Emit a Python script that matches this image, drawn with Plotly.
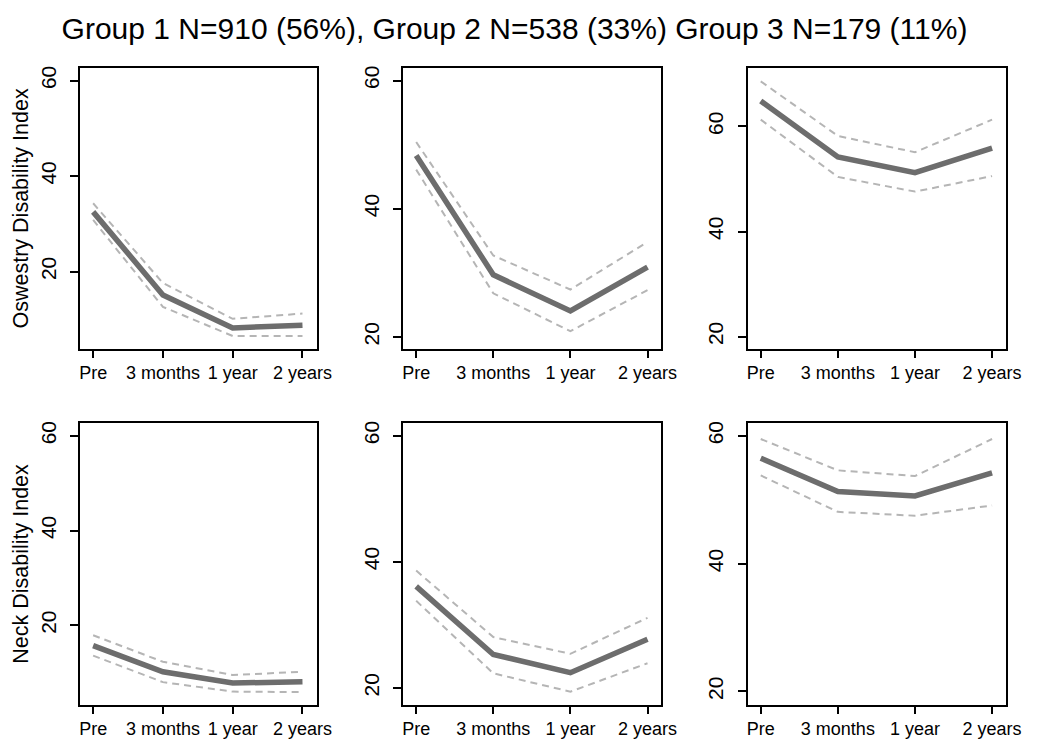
import plotly.graph_objects as go

timepoints = ["Pre", "3 months", "1 year", "2 years"]
x_pos = [0, 1, 2, 3]

# ODI (top row), groups 1-3
odi_mean = [[32.5, 15.1, 8.2, 8.75], [48.3, 29.7, 24.05, 30.9], [64.85, 54.2, 51.2, 55.9]]
odi_upper = [[34.3, 17.6, 10.1, 11.2], [50.4, 32.7, 27.4, 34.8], [68.6, 58.2, 55.1, 61.3]]
odi_lower = [[30.8, 12.6, 6.5, 6.5], [46.1, 26.8, 20.9, 27.3], [61.3, 50.4, 47.6, 50.55]]

# NDI (bottom row), groups 1-3
ndi_mean = [[15.7, 10.2, 7.8, 8.1], [36.1, 25.3, 22.4, 27.7], [56.5, 51.3, 50.6, 54.2]]
ndi_upper = [[17.9, 12.3, 9.5, 10.2], [38.6, 28.05, 25.4, 31.1], [59.5, 54.6, 53.7, 59.5]]
ndi_lower = [[13.6, 8.0, 6.0, 5.9], [33.8, 22.3, 19.4, 23.9], [53.8, 48.1, 47.5, 49.1]]

y_ticks = [20, 40, 60]
title_text = "Group 1 N=910 (56%), Group 2 N=538 (33%) Group 3 N=179 (11%)"
row_titles = ["Oswestry Disability Index", "Neck Disability Index"]

# page body has an 8px margin: the figure is drawn from (8, 8)
OFF = 8
W, H = 1037 - OFF, 739 - OFF


def fx(px):
    return (px - OFF) / W


def fy(py):
    return 1 - (py - OFF) / H


x_domains = [(fx(80), fx(321)), (fx(408.3), fx(670.7)), (fx(758.3), fx(1020.7))]
y_domains = [(fy(349), fy(66)), (fy(706.7), fy(423.3))]
y_ranges = [[[3.75, 62.7], [18.1, 62.0], [17.6, 71.2]],
            [[3.2, 62.7], [17.3, 62.0], [17.9, 62.0]]]
x_ranges = [[-0.19, 3.21], [-0.17, 3.18], [-0.17, 3.18]]

FONT = "Liberation Sans, Arial, sans-serif"
MAIN_COL = "#6d6d6d"
CI_COL = "#b5b5b5"

fig = go.Figure()
layout = {}
data_rows = [(odi_mean, odi_upper, odi_lower), (ndi_mean, ndi_upper, ndi_lower)]
idx = 0
for r in range(2):
    mean, up, lo = data_rows[r]
    for c in range(3):
        idx += 1
        xa = "x" if idx == 1 else f"x{idx}"
        ya = "y" if idx == 1 else f"y{idx}"
        for series, col, w, dash in [(up[c], CI_COL, 2, "7px,5px"), (lo[c], CI_COL, 2, "7px,5px"),
                                     (mean[c], MAIN_COL, 5.5, "solid")]:
            fig.add_trace(go.Scatter(x=x_pos, y=series, mode="lines", xaxis=xa, yaxis=ya,
                                     line=dict(color=col, width=w, dash=dash),
                                     showlegend=False, hoverinfo="skip"))
        xkey = "xaxis" if idx == 1 else f"xaxis{idx}"
        ykey = "yaxis" if idx == 1 else f"yaxis{idx}"
        layout[xkey] = dict(domain=list(x_domains[c]), anchor=ya, range=x_ranges[c],
                            tickmode="array", tickvals=x_pos, ticktext=timepoints,
                            showline=True, linecolor="black", linewidth=1.5, mirror=True,
                            ticks="outside", ticklen=7, tickwidth=1.5, tickcolor="black",
                            showgrid=False, zeroline=False,
                            tickfont=dict(family=FONT, size=18, color="black"))
        ydict = dict(domain=list(y_domains[r]), anchor=xa, range=y_ranges[r][c],
                     tickmode="array", tickvals=y_ticks, tickangle=-90,
                     showline=True, linecolor="black", linewidth=1.5, mirror=True,
                     ticks="outside", ticklen=8, tickwidth=1.5, tickcolor="black",
                     ticklabelstandoff=6,
                     showgrid=False, zeroline=False,
                     tickfont=dict(family=FONT, size=21, color="black"))
        if c == 0:
            ydict["title"] = dict(text=row_titles[r], font=dict(family=FONT, size=21.5, color="black"),
                                  standoff=2)
        layout[ykey] = ydict

fig.update_layout(**layout)
fig.update_layout(
    width=W, height=H,
    margin=dict(l=0, r=0, t=0, b=0),
    paper_bgcolor="white", plot_bgcolor="white",
    title=dict(text=title_text, x=fx(514.5), xanchor="center", y=fy(28), yanchor="middle",
               yref="container", font=dict(family=FONT, size=30, color="black")),
    showlegend=False,
)
fig.write_html("out.html")
